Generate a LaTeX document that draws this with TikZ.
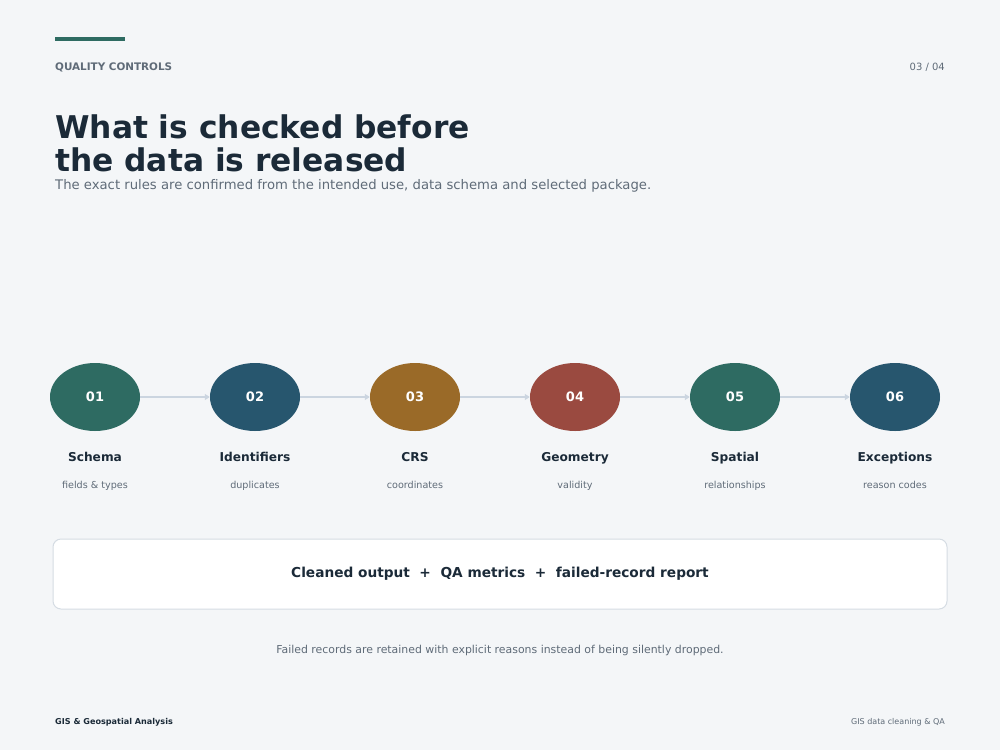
\documentclass[tikz,border=0pt]{standalone}
\usepackage{fontspec}
\setmainfont{DejaVu Sans}
\usetikzlibrary{arrows.meta,shapes.geometric}
\definecolor{bg}{HTML}{F4F6F8}
\definecolor{ink}{HTML}{1B2A38}
\definecolor{muted}{HTML}{5F6B78}
\definecolor{cteal}{HTML}{2E6B62}
\definecolor{cblue}{HTML}{27566E}
\definecolor{cochre}{HTML}{9A6A28}
\definecolor{cred}{HTML}{9A4A40}
\definecolor{lineg}{HTML}{CBD5E0}
\definecolor{boxb}{HTML}{D5DCE3}
\tikzset{
  stepcirc/.style={ellipse, minimum width=90pt, minimum height=68pt, inner sep=0pt, text=white, font=\bfseries\fontsize{13}{13}\selectfont},
  steptitle/.style={font=\bfseries\fontsize{12.2}{13}\selectfont, text=ink},
  stepsub/.style={font=\fontsize{9.6}{10}\selectfont, text=muted},
  flow/.style={draw=lineg, line width=1.5pt, -{Triangle[length=5pt,width=6pt]}},
}
\begin{document}
\begin{tikzpicture}[x=1pt,y=-1pt]
\useasboundingbox (0,0) rectangle (1000,750);
\fill[bg] (0,0) rectangle (1000,750);
\fill[cteal] (55,37) rectangle (125,41);
\node[anchor=base west, inner sep=0pt, text=muted, font=\bfseries\fontsize{10.4}{10}\selectfont] (kicker) at (55,70) {QUALITY CONTROLS};
\node[anchor=base east, inner sep=0pt, text=muted, font=\fontsize{10}{10}\selectfont] (page) at (945,70) {03 / 04};
\node[anchor=base west, inner sep=0pt, text=ink, font=\bfseries\fontsize{31.3}{33}\selectfont, align=left] (title) at (55,171) {What is checked before\\the data is released};
\node[anchor=base west, inner sep=0pt, text=muted, font=\fontsize{13.2}{14}\selectfont] (sub) at (55,189) {The exact rules are confirmed from the intended use, data schema and selected package.};

\foreach \i/\x/\c/\t/\s in {1/95/cteal/Schema/fields \& types, 2/255/cblue/Identifiers/duplicates, 3/415/cochre/CRS/coordinates, 4/575/cred/Geometry/validity, 5/735/cteal/Spatial/relationships, 6/895/cblue/Exceptions/reason codes}{
  \node[stepcirc, fill=\c] (c\i) at (\x,397) {0\i};
  \node[steptitle, anchor=base] (t\i) at (\x,461) {\t};
  \node[stepsub, anchor=base] (s\i) at (\x,488) {\s};
}
\foreach \a/\b in {1/2,2/3,3/4,4/5,5/6}{
  \draw[flow] (c\a) -- (c\b);
}
\node[draw=boxb, line width=1pt, fill=white, rounded corners=8pt, minimum width=894pt, minimum height=70pt] (out) at (500,574) {};
\node[text=ink, font=\bfseries\fontsize{13.7}{14}\selectfont] (outtxt) at (out.center) {Cleaned output\ \ +\ \ QA metrics\ \ +\ \ failed-record report};
\node[anchor=base, inner sep=0pt, text=muted, font=\fontsize{10.9}{12}\selectfont] (note) at (500,653) {Failed records are retained with explicit reasons instead of being silently dropped.};
\node[anchor=base west, inner sep=0pt, text=ink, font=\bfseries\fontsize{8.1}{9}\selectfont] (foot1) at (55,724) {GIS \& Geospatial Analysis};
\node[anchor=base east, inner sep=0pt, text=muted, font=\fontsize{8}{9}\selectfont] (foot2) at (945,724) {GIS data cleaning \& QA};
\end{tikzpicture}
\end{document}
